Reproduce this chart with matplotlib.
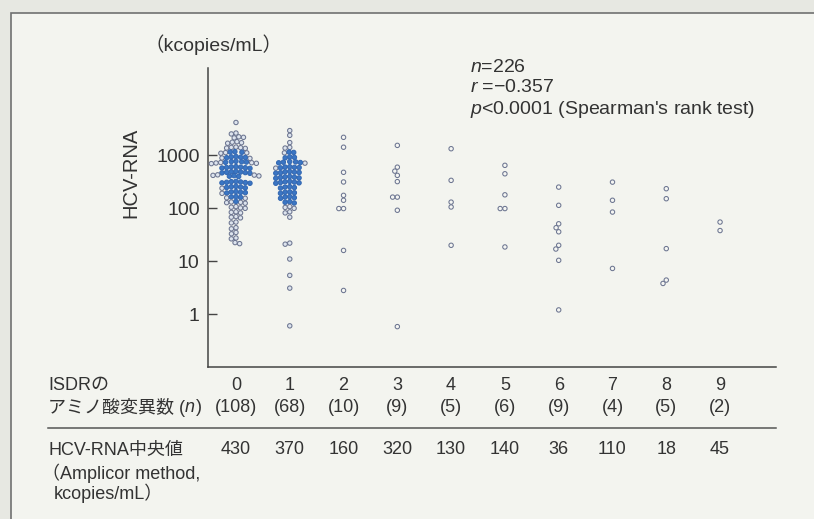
import numpy as np
import matplotlib
matplotlib.use('Agg')
import matplotlib.pyplot as plt
from matplotlib.patches import Rectangle
from matplotlib.lines import Line2D
from matplotlib.ticker import NullLocator
from matplotlib import transforms

# ISDR amino acid mutation count (x categories)
groups = [0, 1, 2, 3, 4, 5, 6, 7, 8, 9]
n_labels = ['(108)', '(68)', '(10)', '(9)', '(5)', '(6)', '(9)', '(4)', '(5)', '(2)']
median_labels = ['430', '370', '160', '320', '130', '140', '36', '110', '18', '45']

# HCV-RNA (kcopies/mL)
hcv_0 = [4200,
         2550, 2650,
         2150, 2200, 2250,
         1700, 1740, 1780, 1820,
         1360, 1380, 1400, 1420, 1440,
         1100, 1120, 1130, 1150, 1160, 1180,
         880, 895, 905, 915, 925, 940, 955,
         700, 710, 720, 728, 735, 742, 750, 758, 765, 775,
         570, 578, 585, 592, 600, 608, 615,
         460, 468, 474, 480, 486, 492, 500,
         400, 405, 410, 415, 420, 425, 430,
         298, 303, 307, 311, 315, 319, 323,
         240, 244, 248, 252, 256, 260,
         192, 195, 198, 201, 204, 208,
         155, 158, 161, 164, 167,
         125, 128, 130, 132, 135,
         100, 102, 105, 108,
         82, 84, 86,
         66, 68, 70,
         53, 55,
         41, 43,
         33, 35,
         26.5, 27.5,
         21.5, 22.5]
hcv_1 = [2950, 2400,
         1750,
         1380, 1420,
         1120, 1140, 1160,
         900, 920, 940,
         715, 725, 735, 745, 755, 765,
         575, 583, 590, 597, 604, 612,
         462, 470, 477, 484, 491, 498,
         370, 376, 382, 388, 394, 400,
         298, 303, 308, 313, 318, 323,
         242, 247, 252, 257,
         193, 197, 201, 205,
         155, 159, 163, 167,
         126, 130, 134,
         100, 104, 108,
         82, 86,
         68, 21, 22, 11, 5.4, 3.1, 0.6]
hcv_2 = [2200, 1430, 480, 315, 176, 142, 99, 99, 16, 2.8]
hcv_3 = [1550, 600, 505, 420, 320, 163, 163, 92, 0.58]
hcv_4 = [1340, 338, 131, 106, 20]
hcv_5 = [650, 450, 180, 99, 99, 18.6]
hcv_6 = [252, 114, 51, 43, 36, 20, 17, 10.4, 1.2]
hcv_7 = [313, 142, 85, 7.3]
hcv_8 = [235, 152, 17.3, 4.4, 3.8]
hcv_9 = [55, 38]
hcv_by_group = [hcv_0, hcv_1, hcv_2, hcv_3, hcv_4, hcv_5, hcv_6, hcv_7, hcv_8, hcv_9]

W, H = 814, 519
TXT = '#333333'
plt.rcParams['font.family'] = ['Liberation Sans', 'Noto Sans CJK JP', 'DejaVu Sans']
plt.rcParams['mathtext.fontset'] = 'custom'
plt.rcParams['mathtext.rm'] = 'Liberation Sans'
plt.rcParams['mathtext.it'] = 'Liberation Sans:italic'


def fx(px):
    return px / W


def fy(py):
    return 1 - py / H


def swarm(vals, px_x, px_y, d):
    """x offsets (data units) so that circles of diameter d px do not overlap"""
    y = np.log10(vals) * px_y
    placed = []
    offs = np.zeros(len(vals))
    for i in np.argsort(-y, kind='stable'):
        cands = [0.0]
        for (qx, qy) in placed:
            dy = y[i] - qy
            if abs(dy) < d:
                h = np.sqrt(d * d - dy * dy)
                cands += [qx - h, qx + h]
        cands.sort(key=abs)
        for c in cands:
            if all((c - qx) ** 2 + (y[i] - qy) ** 2 >= d * d - 1e-6 for (qx, qy) in placed):
                break
        placed.append((c, y[i]))
        offs[i] = c
    return offs / px_x


fig = plt.figure(figsize=(W / 100, H / 100), dpi=100)
fig.patch.set_facecolor('#e7e8e2')
fig.add_artist(Rectangle((fx(11), -1), 3, 2 - 13 / H, transform=fig.transFigure,
                         fc='#f3f4ef', ec='#707070', lw=1.2, zorder=0))

ax_l, ax_r, ax_t, ax_b = 208, 776, 68, 367
x_lo, x_hi = -0.52, 10.04
ax = fig.add_axes([fx(ax_l), fy(ax_b), (ax_r - ax_l) / W, (ax_b - ax_t) / H])
ax.patch.set_visible(False)
ax.set_yscale('log')
ax.set_xlim(x_lo, x_hi)
ax.set_ylim(0.1, 4.5e4)
for s in ['top', 'right']:
    ax.spines[s].set_visible(False)
for s in ['left', 'bottom']:
    ax.spines[s].set_color('#444444')
    ax.spines[s].set_linewidth(1.1)
ax.set_xticks([])
ax.set_yticks([1, 10, 100, 1000])
ax.set_yticklabels(['1', '10', '100', '1000'])
ax.yaxis.set_minor_locator(NullLocator())
ax.tick_params(axis='y', direction='in', length=6.5, width=1, pad=6,
               labelsize=14, colors='#444444', labelcolor=TXT)

px_x = (ax_r - ax_l) / (x_hi - x_lo)
px_y = (ax_b - ax_t) / (np.log10(4.5e4) - np.log10(0.1))
d = 4.7

for g, vals in zip(groups, hcv_by_group):
    vals = np.array(vals, dtype=float)
    off = swarm(vals, px_x, px_y, d)
    if len(vals) > 50:
        # solid blue core of the dense clusters, roughly an ellipse round the median
        cy = np.log10(np.median(vals)) * px_y
        ey = (np.log10(vals) * px_y - cy) / 27
        ex = off * px_x / (3.2 * d)
        dense = ex ** 2 + ey ** 2 <= 1
        face = np.where(dense, '#3a76c4', '#dde4ee')
        edge = np.where(dense, '#3468b2', '#6c7590')
    else:
        face = np.array(['#f5f6f3'] * len(vals))
        edge = np.array(['#6c7590'] * len(vals))
    ax.scatter(g + off, vals, s=10, facecolors=face, edgecolors=edge,
               linewidths=0.75, zorder=3, clip_on=False)

# axis titles and statistics
fig.text(fx(131), fy(173), 'HCV-RNA', rotation=90, ha='center', va='center',
         fontsize=14.5, color=TXT)
fig.text(fx(144), fy(45), '（kcopies/mL）', ha='left', va='center', fontsize=14, color=TXT)
fig.text(fx(470), fy(67), '$n$=226', ha='left', va='center', fontsize=14, color=TXT)
fig.text(fx(470), fy(88), '$r$ =\u22120.357', ha='left', va='center', fontsize=14, color=TXT)
fig.text(fx(470), fy(110), "$p$<0.0001 (Spearman's rank test)", ha='left', va='center',
         fontsize=14, color=TXT)

# table under the axis
tr = transforms.blended_transform_factory(ax.transData, fig.transFigure)
fs = 13
fig.text(fx(48), fy(385), 'ISDRの', ha='left', va='center', fontsize=fs, color=TXT)
for g in groups:
    ax.text(g, fy(385), str(g), transform=tr, ha='center', va='center', fontsize=fs, color=TXT)
    ax.text(g, fy(407), n_labels[g], transform=tr, ha='center', va='center', fontsize=fs, color=TXT)
    ax.text(g, fy(450), median_labels[g], transform=tr, ha='center', va='center', fontsize=fs, color=TXT)

renderer = fig.canvas.get_renderer()
t1 = fig.text(fx(48), fy(407), 'アミノ酸変異数 (', ha='left', va='center', fontsize=fs, color=TXT)
x1 = t1.get_window_extent(renderer).x1
t2 = fig.text(x1 / W, fy(407), 'n', ha='left', va='center', fontsize=fs, color=TXT, style='italic')
x2 = t2.get_window_extent(renderer).x1
fig.text((x2 + 1) / W, fy(407), ')', ha='left', va='center', fontsize=fs, color=TXT)

fig.add_artist(Line2D([fx(48), fx(776)], [fy(428), fy(428)], transform=fig.transFigure,
                      color='#555555', lw=1.1))

fig.text(fx(48), fy(450), 'HCV-RNA中央値', ha='left', va='center', fontsize=fs, color=TXT)
fig.text(fx(42), fy(473), '（Amplicor method,', ha='left', va='center', fontsize=fs, color=TXT)
fig.text(fx(54), fy(493), 'kcopies/mL）', ha='left', va='center', fontsize=fs, color=TXT)

fig.savefig('out.png', dpi=100, facecolor=fig.get_facecolor())
